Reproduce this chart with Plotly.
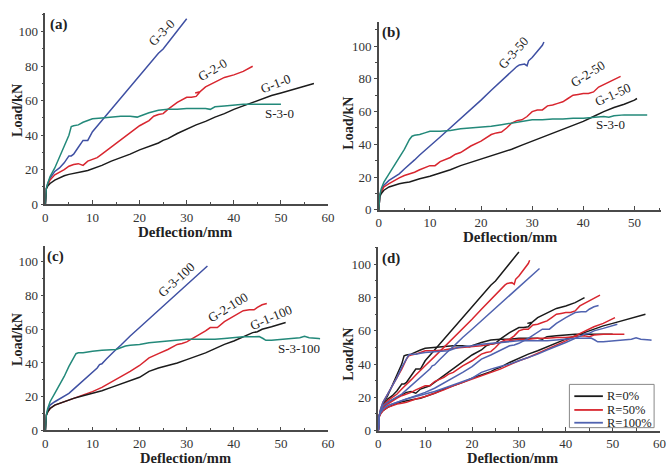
import plotly.graph_objects as go

W, H = 668, 473

# ---------------- data (Deflection mm, Load kN) ----------------
# panel (a) R=0%
a_G1_x = [0, 0.2, 0.5, 1, 2, 3, 4, 5, 6, 7, 8, 9, 10, 12, 14, 16, 18, 20, 22, 24, 25, 26, 28, 30, 32, 34, 36, 38, 40, 42, 44, 46, 48, 50, 52, 54, 56, 57]
a_G1_y = [0, 9, 10.5, 12, 14, 15.5, 16.5, 17.3, 18, 18.5, 19, 19.5, 20.5, 22.5, 25, 27, 29, 31.5, 33.5, 35.5, 37, 38, 41, 43.5, 46, 48, 50.5, 52.5, 55, 57, 59, 61, 63, 64.5, 66, 67.5, 69, 70]
a_G2_x = [0, 0.2, 0.5, 1, 2, 3, 4, 5, 6, 7, 7.5, 8, 9, 10, 11, 12, 14, 16, 18, 20, 22, 23, 24, 25, 26, 28, 30, 31, 32, 32.8, 31.8, 32.8, 34, 36, 38, 40, 42, 44]
a_G2_y = [0, 9, 11, 14, 17, 18.5, 20, 22, 23, 23.5, 23, 22.5, 25, 26, 27, 29, 33, 37.5, 41.5, 45.5, 48.5, 51, 52, 52.5, 55, 59, 62, 62, 62.5, 65, 64.5, 65.2, 68, 71, 73.5, 75, 77, 80]
a_G3_x = [0, 0.2, 0.5, 1, 2, 3, 4, 5, 5.5, 6, 7, 8, 9, 10, 12, 14, 16, 18, 20, 22, 24, 25, 26, 28, 30]
a_G3_y = [0, 9, 12, 15, 19, 21, 24, 28, 28, 29, 33, 37, 37, 42, 48.5, 55, 61.5, 68, 74.5, 81, 87.5, 90, 93.5, 100, 107.5]
a_S3_x = [0, 0.2, 0.5, 1, 2, 3, 4, 5, 5.5, 6, 7, 8, 9, 10, 12, 14, 16, 18, 19.5, 20, 22, 24, 26, 28, 30, 32, 34, 35, 36, 38, 40, 42, 44, 46, 48, 50]
a_S3_y = [0, 9, 12, 16, 21, 27, 33, 40, 45, 45.5, 46, 47.5, 48.5, 49.5, 50, 50.5, 51, 51, 50.5, 51, 53, 54.5, 55, 55, 55.5, 55.5, 55.5, 55, 56.5, 57, 57.5, 58, 58, 58, 58, 58]

# panel (b) R=50%
b_G1_x = [0, 0.2, 0.5, 1, 2, 3, 4, 5, 6, 8, 10, 12, 14, 16, 18, 20, 22, 24, 26, 28, 30, 32, 34, 36, 38, 40, 42, 44, 46, 48, 50, 50.5]
b_G1_y = [0, 8, 10, 12, 14, 15, 16, 16.5, 17, 19, 20.5, 22.5, 24.5, 27, 29, 31, 33, 35, 37, 39.5, 42, 44, 46.5, 49, 51.5, 54, 57, 60, 62.5, 64.5, 67, 68]
b_G2_x = [0, 0.2, 0.5, 1, 2, 3, 4, 5, 6, 7, 8, 9, 10, 11, 11.5, 12, 14, 15, 16, 18, 20, 22, 23, 24, 25, 26, 27, 28, 29, 30, 31, 32, 33, 34, 35, 36, 37, 38, 39, 40, 41, 42, 43, 44, 45, 46, 47, 47.3]
b_G2_y = [0, 9, 11, 14, 16, 18, 19.5, 21, 22, 23, 24.5, 26, 27, 27, 28.5, 29.5, 32, 34, 35, 39, 42, 46, 47, 47.5, 50, 53, 54.5, 55, 57, 60, 61, 61, 63.5, 64, 65, 66, 68, 70, 70.5, 71, 71, 72, 75, 76.5, 78, 80, 81, 81.5]
b_G3_x = [0, 0.2, 0.5, 1, 2, 3, 4, 5, 6, 7, 8, 9, 10, 12, 14, 16, 18, 20, 22, 24, 26, 27, 27.5, 28.5, 29, 29.3, 30, 31, 32, 32.3]
b_G3_y = [0, 9, 12, 15, 18, 20, 22, 25, 27.5, 30.5, 33.5, 36, 39, 44.5, 50, 56, 61.5, 67, 73, 79, 84.5, 87.5, 88.5, 89, 88, 91, 93, 97, 100.5, 102.5]
b_S3_x = [0, 0.2, 0.5, 1, 2, 3, 4, 5, 6, 6.5, 7, 8, 9, 10, 12, 14, 16, 18, 20, 22, 24, 26, 28, 30, 32, 34, 36, 38, 40, 42, 44, 45, 46, 48, 50, 52.5]
b_S3_y = [0, 9, 13, 17, 22, 27, 32, 37, 43, 45, 45.5, 46, 47, 48, 48, 48.5, 49.5, 50, 50.5, 51, 52, 53, 54, 55, 55, 55.5, 55.5, 56, 56, 56.5, 57, 56.5, 57.5, 58, 58, 58]

# panel (c) R=100%
c_G1_x = [0, 0.2, 0.5, 1, 2, 3, 4, 5, 6, 8, 10, 12, 14, 16, 18, 20, 22, 24, 26, 28, 30, 32, 34, 36, 38, 40, 42, 43, 44, 45, 46, 48, 50, 51]
c_G1_y = [0, 9, 11, 13, 15, 16, 17, 18, 19, 20.5, 22, 23.5, 25.5, 27.5, 29.5, 31.5, 35, 37, 38.5, 40, 42, 44, 46, 48.5, 51, 53, 55.5, 57, 58, 58.5, 60, 61.5, 63, 64]
c_G2_x = [0, 0.2, 0.5, 1, 2, 3, 4, 5, 6, 7, 8, 9, 10, 12, 14, 16, 18, 20, 22, 24, 26, 28, 29, 30, 32, 34, 35, 36.5, 38, 40, 42, 43.3, 44.3, 45, 46, 47]
c_G2_y = [0, 9, 11, 13, 15, 16, 17, 18, 19, 20, 21, 22, 23, 25.5, 28.5, 31.5, 35, 38.5, 43, 45.5, 48, 51, 51.5, 52.5, 55.5, 59, 61, 61, 64.5, 68, 71, 71.5, 71.5, 73, 74.5, 75.3]
c_G3_x = [0, 0.2, 0.5, 1, 2, 3, 4, 5, 6, 7, 8, 9, 10, 11, 11.5, 12, 13, 14, 15, 16, 17, 18, 20, 22, 24, 26, 28, 30, 32, 34, 34.4]
c_G3_y = [0, 9, 12, 15, 17, 18.5, 20, 22, 24.5, 27, 29.5, 32, 34.5, 37, 39, 39.5, 42.5, 45.5, 48, 50.5, 53.5, 56, 61, 66, 71, 76, 81, 86.5, 91.5, 96.5, 97.5]
c_S3_x = [0, 0.2, 0.5, 1, 2, 3, 4, 5, 6, 6.5, 7, 8, 9, 10, 12, 14, 15, 16, 17, 18, 20, 22, 24, 26, 28, 30, 32, 34, 36, 38, 40, 42, 44, 45.4, 46.2, 46.8, 48, 50, 52, 54, 55, 56, 58, 58.3]
c_S3_y = [0, 9, 13, 17, 22, 27, 32, 38, 43, 45.5, 46, 46, 46.5, 47, 47.5, 48, 48, 49, 50, 50.5, 51, 52, 52.5, 53, 53.5, 54, 54, 54, 54, 54.5, 55, 55.5, 55.5, 55.7, 54.5, 53.4, 53.5, 54, 54.5, 55, 55.8, 55, 54.5, 54.3]

x_ticks = [0, 10, 20, 30, 40, 50, 60]
y_ticks = [0, 20, 40, 60, 80, 100]
legend_names = ["R=0%", "R=50%", "R=100%"]

BLACK = "#1b1b1b"
RED = "#d8262f"
BLUE = "#3f50a3"
BLUE_D = "#5063b0"
TEAL = "#23897a"
AX = "#4a4a4a"
SERIF = "Liberation Serif, Times New Roman, serif"


def px(x):
    return x / W


def py(y):
    return 1 - y / H


fig = go.Figure()

panels = {
    "a": dict(xa="x", ya="y", curves=[(a_G3_x, a_G3_y, BLUE), (a_G2_x, a_G2_y, RED), (a_G1_x, a_G1_y, BLACK), (a_S3_x, a_S3_y, TEAL)]),
    "b": dict(xa="x2", ya="y2", curves=[(b_G3_x, b_G3_y, BLUE), (b_G2_x, b_G2_y, RED), (b_G1_x, b_G1_y, BLACK), (b_S3_x, b_S3_y, TEAL)]),
    "c": dict(xa="x3", ya="y3", curves=[(c_G3_x, c_G3_y, BLUE), (c_G2_x, c_G2_y, RED), (c_G1_x, c_G1_y, BLACK), (c_S3_x, c_S3_y, TEAL)]),
}
for k, p in panels.items():
    for xs, ys, col in p["curves"]:
        fig.add_trace(go.Scatter(x=xs, y=ys, mode="lines", line=dict(color=col, width=1.5),
                                 xaxis=p["xa"], yaxis=p["ya"], showlegend=False))

# panel (d): all curves, colored by replacement ratio
groups = [
    (legend_names[0], BLACK, [(a_G1_x, a_G1_y), (a_G2_x, a_G2_y), (a_G3_x, a_G3_y), (a_S3_x, a_S3_y)]),
    (legend_names[1], RED, [(b_G1_x, b_G1_y), (b_G2_x, b_G2_y), (b_G3_x, b_G3_y), (b_S3_x, b_S3_y)]),
    (legend_names[2], BLUE_D, [(c_G1_x, c_G1_y), (c_G2_x, c_G2_y), (c_G3_x, c_G3_y), (c_S3_x, c_S3_y)]),
]
for name, col, cs in groups:
    for xs, ys in cs:
        fig.add_trace(go.Scatter(x=xs, y=ys, mode="lines", name=name, showlegend=False,
                                 line=dict(color=col, width=1.5), xaxis="x4", yaxis="y4"))


def xaxis(dom, anchor, rng):
    return dict(domain=dom, anchor=anchor, range=rng, tickvals=x_ticks, ticks="inside", ticklen=4,
                tickwidth=1.2, tickcolor=AX, showline=True, linecolor=AX, linewidth=1.5,
                showgrid=False, zeroline=False, tickfont=dict(family=SERIF, size=13, color="#333"),
                minor=dict(ticks="inside", ticklen=2.5, tickwidth=1, tickcolor=AX, dtick=5, tick0=0),
                fixedrange=True)


def yaxis(dom, anchor, rng):
    return dict(domain=dom, anchor=anchor, range=rng, tickvals=y_ticks, ticks="outside", ticklen=3,
                tickwidth=1.2, tickcolor=AX, showline=True, linecolor=AX, linewidth=1.5,
                showgrid=False, zeroline=False, tickfont=dict(family=SERIF, size=13, color="#333"),
                minor=dict(ticks="outside", ticklen=2, tickwidth=1, tickcolor=AX, dtick=10, tick0=0),
                fixedrange=True)


fig.update_layout(
    width=W, height=H, margin=dict(l=0, r=0, t=0, b=0),
    paper_bgcolor="white", plot_bgcolor="white", showlegend=False,
    xaxis=xaxis([px(43), px(330)], "y", [0, 60]),
    yaxis=yaxis([py(207.7), py(13)], "x", [0, 111]),
    xaxis2=xaxis([px(381.5), px(668)], "y2", [0, 55.2]),
    yaxis2=yaxis([py(213.5), py(22.7)], "x2", [0, 114.5]),
    xaxis3=xaxis([px(43), px(330)], "y3", [0, 60]),
    yaxis3=yaxis([py(437.8), py(250)], "x3", [0, 109.5]),
    xaxis4=xaxis([px(381), px(666.5)], "y4", [0, 60]),
    yaxis4=yaxis([py(438), py(251)], "x4", [0, 110.6]),
)

ann = []


def txt(x, y, s, size=13, angle=0, bold=False, xanchor="center", yanchor="middle"):
    ann.append(dict(x=px(x), y=py(y), xref="paper", yref="paper", text=(f"<b>{s}</b>" if bold else s),
                    showarrow=False, textangle=angle, font=dict(family=SERIF, size=size, color="#222"),
                    xanchor=xanchor, yanchor=yanchor, borderpad=0))


# axis titles
for (xl, yl), (xd, yd, ya, fs) in [((14, 112), (185, 235.5, "middle", 15)), ((351, 125), (515, 241.5, "middle", 15)),
                                   ((14, 345), (185, 475, "bottom", 14.5)), ((351, 360), (517, 475, "bottom", 14.5))]:
    txt(xl, yl, "Load/kN", size=14, angle=-90, bold=True)
    txt(xd, yd, "Deflection/mm", size=fs, bold=True, yanchor=ya)

# panel letters
txt(57, 25, "(a)", 15, bold=True)
txt(394, 33, "(b)", 15, bold=True)
txt(53, 261, "(c)", 15, bold=True)
txt(394, 263, "(d)", 15, bold=True)

# curve labels
txt(161, 33, "G-3-0", 13, -46)
txt(213, 71, "G-2-0", 13, -31)
txt(277, 85, "G-1-0", 13, -21)
txt(281, 115, "S-3-0", 13, 0)
txt(518, 53, "G-3-50", 13, -48)
txt(594, 75, "G-2-50", 13, -32)
txt(619, 96, "G-1-50", 13, -24)
txt(617, 127, "S-3-0", 13, 0)
txt(176, 284, "G-3-100", 13, -42)
txt(228, 313, "G-2-100", 13, -32)
txt(272, 323, "G-1-100", 13, -23)
txt(300, 355, "S-3-100", 13, 0)

# legend box for panel (d)
shapes = [dict(type="rect", xref="paper", yref="paper", x0=px(575), x1=px(661), y0=py(435), y1=py(391),
               line=dict(color="#888", width=1), fillcolor="white", layer="above")]
for (name, col, _), yy in zip(groups, [403, 417, 430]):
    shapes.append(dict(type="line", xref="paper", yref="paper", x0=px(580), x1=px(609), y0=py(yy), y1=py(yy),
                       line=dict(color=col, width=1.8), layer="above"))
    txt(612, yy, name, 12.5, 0, xanchor="left")

fig.update_layout(annotations=ann, shapes=shapes)
fig.write_html("out.html")
